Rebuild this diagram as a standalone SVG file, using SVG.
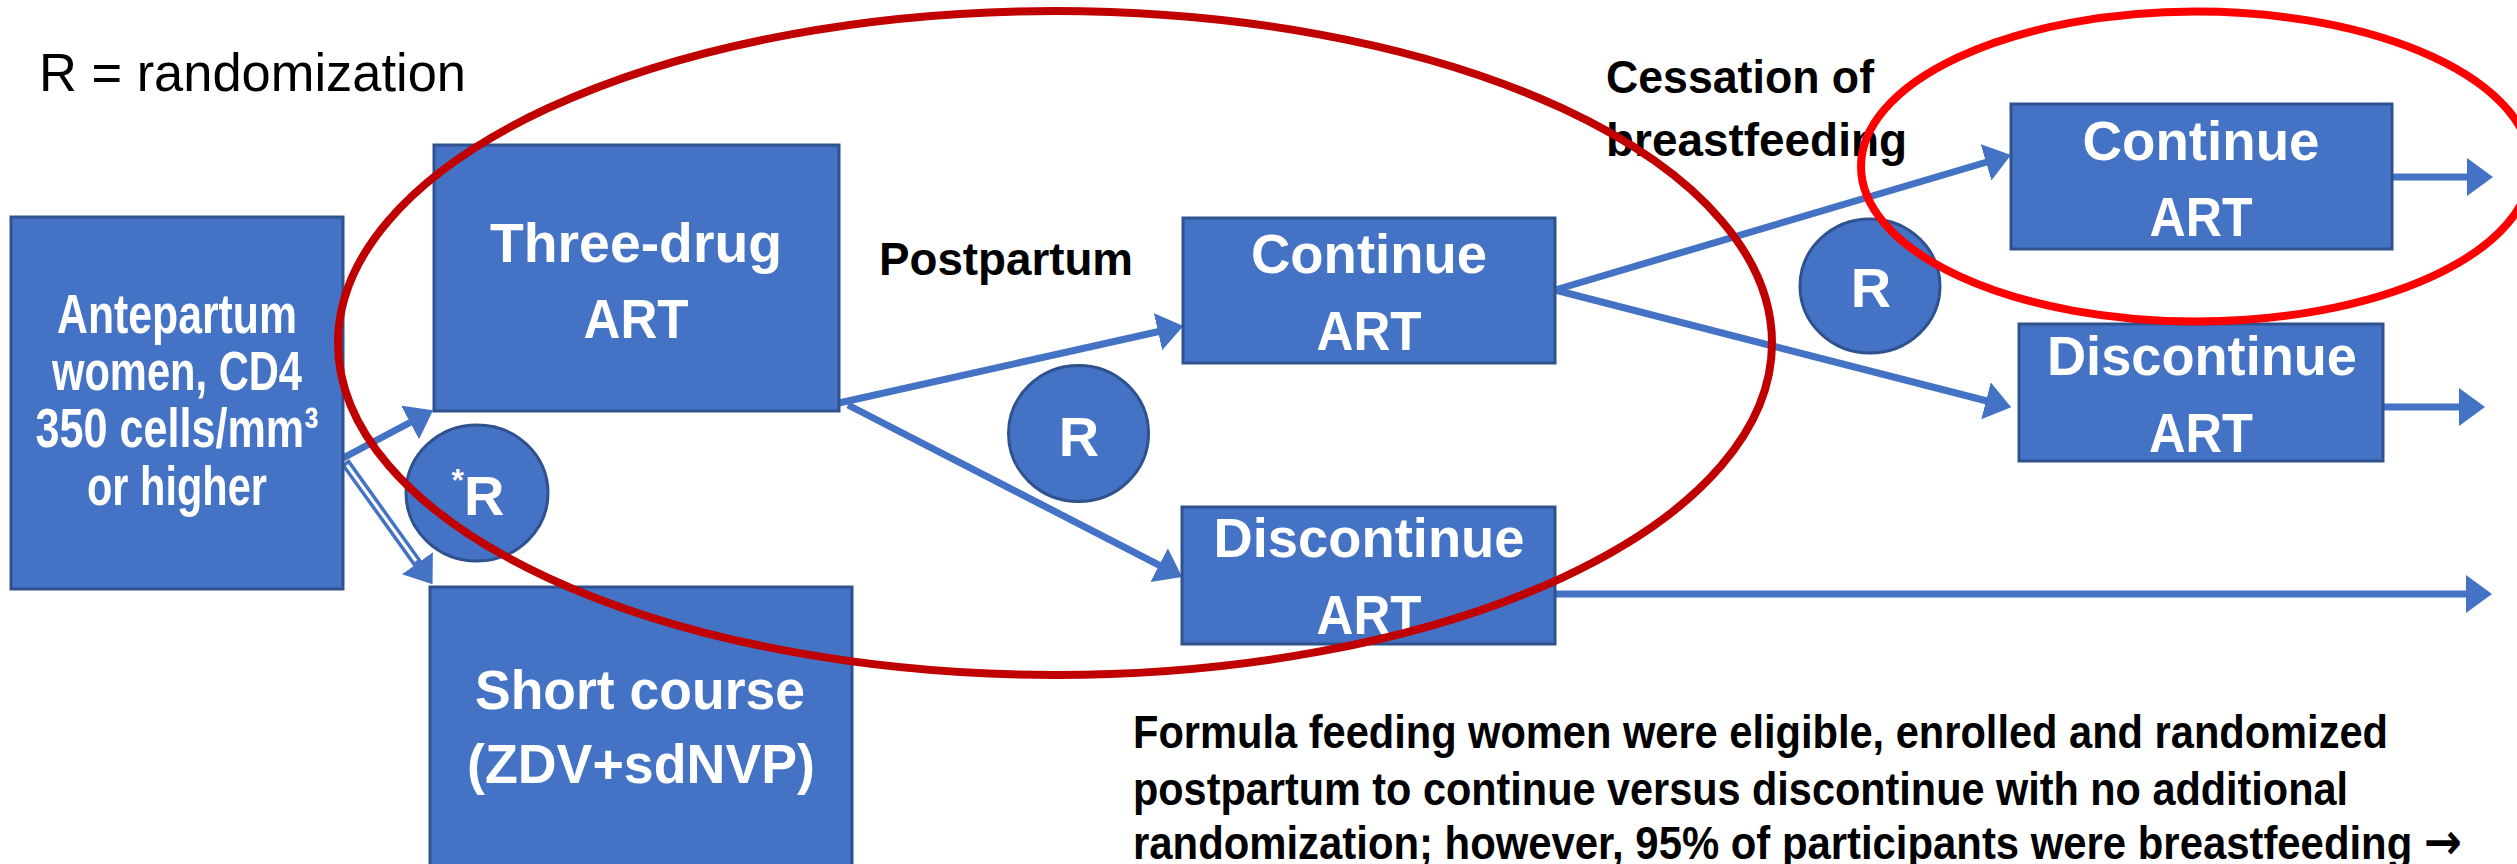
<svg xmlns="http://www.w3.org/2000/svg" width="2517" height="864" viewBox="0 0 2517 864">
<style>
.box{fill:#4472C4;stroke:#2F528F;stroke-width:3}
.wt{fill:#FFFFFF;font-family:"Liberation Sans",Arial,sans-serif;font-weight:bold;text-anchor:middle;font-size:56px}
.bt{fill:#000000;font-family:"Liberation Sans",Arial,sans-serif;font-weight:bold;font-size:46px}
.conn{stroke:#4472C4;stroke-width:7;fill:none;marker-end:url(#ah)}
.hl{fill:none;stroke-width:8}
</style>
<defs>
<marker id="ah" markerUnits="userSpaceOnUse" markerWidth="28" markerHeight="40" viewBox="0 0 28 40" refX="1" refY="19" orient="auto">
<path d="M0,0 L26,19 L0,38 z" fill="#4472C4"/>
</marker>
</defs>
<rect width="2517" height="864" fill="#FFFFFF"/>

<text x="39" y="91" font-family="'Liberation Sans',Arial,sans-serif" font-size="53" fill="#000" textLength="427" lengthAdjust="spacingAndGlyphs">R = randomization</text>
<text class="bt" x="879" y="275" textLength="254" lengthAdjust="spacingAndGlyphs">Postpartum</text>
<text class="bt" x="1606" y="93" textLength="268" lengthAdjust="spacingAndGlyphs">Cessation of</text>
<text class="bt" x="1606" y="156" textLength="301" lengthAdjust="spacingAndGlyphs">breastfeeding</text>
<g id="note">
<text class="bt" x="1133" y="748" textLength="1255" lengthAdjust="spacingAndGlyphs">Formula feeding women were eligible, enrolled and randomized</text>
<text class="bt" x="1133" y="805" textLength="1215" lengthAdjust="spacingAndGlyphs">postpartum to continue versus discontinue with no additional</text>
<text class="bt" x="1133" y="859" textLength="1329" lengthAdjust="spacingAndGlyphs">randomization; however, 95% of participants were breastfeeding <tspan font-family="'DejaVu Sans',sans-serif" font-size="50">→</tspan></text>
</g>

<g id="connectors">
<line class="conn" x1="343" y1="458" x2="411" y2="422"/>
<line x1="345" y1="462" x2="418" y2="564" stroke="#4472C4" stroke-width="10" marker-end="url(#ah)"/>
<line x1="347" y1="465" x2="416" y2="561" stroke="#FFFFFF" stroke-width="3"/>
<line class="conn" x1="839" y1="403" x2="1159" y2="331.5"/>
<line class="conn" x1="848" y1="405" x2="1160" y2="565.6"/>
<line class="conn" x1="1555" y1="290" x2="1987" y2="162"/>
<line class="conn" x1="1555" y1="290" x2="1987" y2="401"/>
<line class="conn" x1="2392" y1="177" x2="2468" y2="177"/>
<line class="conn" x1="2383" y1="407" x2="2460" y2="407"/>
<line class="conn" x1="1555" y1="594" x2="2467" y2="594"/>
</g>

<g id="antepartum">
<rect class="box" x="11" y="217" width="332" height="372"/>
<text class="wt" font-size="40" x="177" y="333" textLength="240" lengthAdjust="spacingAndGlyphs">Antepartum</text>
<text class="wt" font-size="40" x="177" y="390" textLength="250" lengthAdjust="spacingAndGlyphs">women, CD4</text>
<text class="wt" font-size="40" x="177" y="447" textLength="283" lengthAdjust="spacingAndGlyphs">350 cells/mm³</text>
<text class="wt" font-size="40" x="177" y="505" textLength="180" lengthAdjust="spacingAndGlyphs">or higher</text>
</g>

<g id="three-drug">
<rect class="box" x="434" y="145" width="405" height="266"/>
<text class="wt" x="636" y="262" textLength="292" lengthAdjust="spacingAndGlyphs">Three-drug</text>
<text class="wt" x="636" y="338" textLength="105" lengthAdjust="spacingAndGlyphs">ART</text>
</g>

<g id="short-course">
<rect class="box" x="430" y="587" width="422" height="280"/>
<text class="wt" x="640" y="709" textLength="330" lengthAdjust="spacingAndGlyphs">Short course</text>
<text class="wt" x="641" y="783" textLength="348" lengthAdjust="spacingAndGlyphs">(ZDV+sdNVP)</text>
</g>

<g id="rand1">
<ellipse class="box" cx="477" cy="493" rx="71" ry="68"/>
<text class="wt" x="478" y="515" font-size="50"><tspan font-size="32" dy="-24">*</tspan><tspan dy="24">R</tspan></text>
</g>

<g id="continue-pp">
<rect class="box" x="1183" y="218" width="372" height="145"/>
<text class="wt" x="1369" y="273" textLength="236" lengthAdjust="spacingAndGlyphs">Continue</text>
<text class="wt" x="1369" y="350" textLength="105" lengthAdjust="spacingAndGlyphs">ART</text>
</g>

<g id="discontinue-pp">
<rect class="box" x="1182" y="507" width="373" height="137"/>
<text class="wt" x="1369" y="557" textLength="311" lengthAdjust="spacingAndGlyphs">Discontinue</text>
<text class="wt" x="1369" y="634" textLength="105" lengthAdjust="spacingAndGlyphs">ART</text>
</g>

<g id="rand2">
<ellipse class="box" cx="1078.5" cy="433.5" rx="70" ry="68"/>
<text class="wt" x="1079" y="456">R</text>
</g>

<g id="continue-bf">
<rect class="box" x="2011" y="104" width="381" height="145"/>
<text class="wt" x="2201" y="160" textLength="237" lengthAdjust="spacingAndGlyphs">Continue</text>
<text class="wt" x="2201" y="236" textLength="103" lengthAdjust="spacingAndGlyphs">ART</text>
</g>

<g id="discontinue-bf">
<rect class="box" x="2019" y="324" width="364" height="137"/>
<text class="wt" x="2202" y="375" textLength="310" lengthAdjust="spacingAndGlyphs">Discontinue</text>
<text class="wt" x="2201" y="452" textLength="104" lengthAdjust="spacingAndGlyphs">ART</text>
</g>

<g id="rand3">
<ellipse class="box" cx="1870" cy="286" rx="70" ry="67"/>
<text class="wt" x="1871" y="307">R</text>
</g>

<g id="highlights">
<ellipse class="hl" stroke="#C00000" cx="1055" cy="343" rx="717" ry="332"/>
<ellipse class="hl" stroke="#FF0000" cx="2196" cy="166.5" rx="335" ry="155"/>
</g>
</svg>
